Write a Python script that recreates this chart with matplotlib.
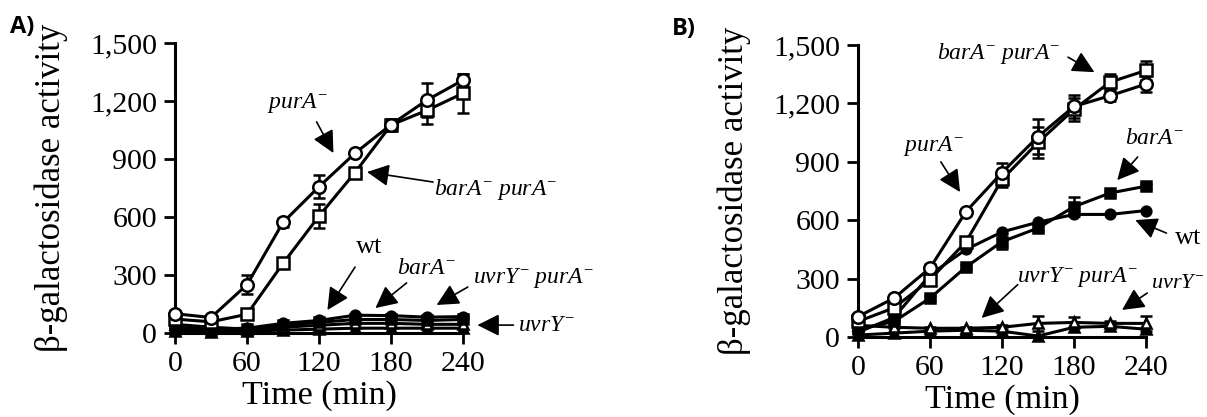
import matplotlib
matplotlib.use('Agg')
import matplotlib.pyplot as plt
import numpy as np

plt.rcParams['font.family'] = ['Liberation Serif', 'DejaVu Serif']
plt.rcParams['mathtext.fontset'] = 'custom'
plt.rcParams['mathtext.rm'] = 'Liberation Serif'
plt.rcParams['mathtext.it'] = 'Liberation Serif:italic'

# time points (min)
time_min = [0, 30, 60, 90, 120, 150, 180, 210, 240]

# ----- panel A -----
purA_A = [100, 80, 250, 572, 757, 930, 1078, 1205, 1308]
purA_A_err = [15, 10, 50, 25, 60, 15, 25, 90, 30]
barApurA_A = [72, 58, 97, 360, 605, 830, 1076, 1152, 1240]
barApurA_A_err = [10, 10, 15, 15, 60, 15, 30, 70, 100]
wt_A = [30, 20, 25, 50, 65, 92, 90, 82, 85]
barA_A = [20, 15, 20, 40, 55, 70, 70, 65, 70]
uvrYpurA_A = [45, 30, 20, 30, 40, 50, 50, 45, 45]
uvrY_A = [10, 5, 10, 15, 20, 25, 25, 25, 25]

# ----- panel B -----
purA_B = [105, 200, 355, 645, 845, 1030, 1185, 1240, 1300]
purA_B_err = [10, 10, 20, 15, 50, 90, 60, 25, 40]
barApurA_B = [80, 150, 295, 490, 810, 1000, 1170, 1310, 1370]
barApurA_B_err = [10, 15, 20, 20, 40, 80, 60, 40, 50]
barA_B = [40, 80, 200, 360, 490, 560, 670, 740, 775]
barA_B_err = [5, 5, 10, 10, 40, 15, 50, 10, 10]
wt_B = [25, 100, 320, 450, 540, 590, 630, 630, 650]
uvrYpurA_B = [60, 50, 45, 45, 50, 70, 75, 70, 70]
uvrYpurA_B_err = [5, 5, 5, 5, 10, 40, 30, 10, 40]
uvrY_B = [10, 20, 30, 35, 30, 5, 50, 55, 40]

y_ticks = [0, 300, 600, 900, 1200, 1500]
y_ticklabels = ['0', '300', '600', '900', '1,200', '1,500']
x_ticks = [0, 60, 120, 180, 240]

fig = plt.figure(figsize=(12.07, 4.17), dpi=100)
axA = fig.add_axes([0.145, 0.2014, 0.2386, 0.6954])
axB = fig.add_axes([0.7109, 0.1918, 0.2386, 0.700])


def draw_series(ax, y, marker, filled, err=None, ms=8.5):
    fc = 'black' if filled else 'white'
    ax.errorbar(time_min, y, yerr=err, color='black', lw=2.2, marker=marker,
                ms=ms, mfc=fc, mec='black', mew=1.8, capsize=4, capthick=1.8,
                elinewidth=1.8, clip_on=False, zorder=3)


def style_axis(ax):
    ax.set_xlim(0, 240)
    ax.set_ylim(0, 1500)
    for s in ['top', 'right']:
        ax.spines[s].set_visible(False)
    ax.spines['left'].set_linewidth(2.2)
    ax.spines['bottom'].set_linewidth(2.2)
    ax.spines['left'].set_bounds(0, 1500)
    ax.spines['bottom'].set_bounds(0, 240)
    ax.set_xticks(x_ticks)
    ax.set_yticks(y_ticks)
    ax.set_yticklabels(y_ticklabels)
    ax.tick_params(direction='out', length=8, width=2, labelsize=21.5, pad=5)
    ax.set_xlabel('Time (min)', fontsize=24.5)
    ax.set_ylabel('β-galactosidase activity', fontsize=25)
    ax.xaxis.label.set_va('center')
    ax.yaxis.set_label_coords(-0.37, 0.5)


def label(ax, txt, x, y, ha='center', size=17):
    ax.text(x, y, txt, ha=ha, va='center', fontsize=size, clip_on=False)


def arrow(ax, tail, tip):
    ax.annotate('', xy=tip, xytext=tail, annotation_clip=False,
                arrowprops=dict(arrowstyle='-|>,head_length=0.9,head_width=0.45',
                                mutation_scale=15, color='black', lw=1.2,
                                shrinkA=0, shrinkB=0))


PURA = r'$purA^{-}$'
BARA = r'$barA^{-}$'
BARA_PURA = r'$barA^{-}\ purA^{-}$'
UVRY = r'$uvrY^{-}$'
UVRY_PURA = r'$uvrY^{-}\ purA^{-}$'

# panel A
draw_series(axA, uvrY_A, '^', True, ms=7)
draw_series(axA, uvrYpurA_A, '^', False, ms=7)
draw_series(axA, barA_A, 's', True, ms=7)
draw_series(axA, wt_A, 'o', True, ms=7)
draw_series(axA, barApurA_A, 's', False, barApurA_A_err, ms=9)
draw_series(axA, purA_A, 'o', False, purA_A_err, ms=9)
style_axis(axA)
axA.xaxis.set_label_coords(0.503, -0.215)

label(axA, PURA, 102, 1190)
arrow(axA, (118, 1092), (132, 931))
label(axA, BARA_PURA, 216, 740, ha='left')
arrow(axA, (215, 781), (160, 833))
label(axA, 'wt', 162, 445, size=19)
arrow(axA, (150, 341), (127, 119))
label(axA, BARA, 210, 336)
arrow(axA, (193, 259), (167, 129))
label(axA, UVRY_PURA, 248, 285, ha='left')
arrow(axA, (244, 238), (218, 145))
label(axA, UVRY, 286, 41, ha='left')
arrow(axA, (282, 41), (252, 41))

# panel B
draw_series(axB, uvrY_B, '^', True, ms=7)
draw_series(axB, uvrYpurA_B, '^', False, uvrYpurA_B_err, ms=7)
draw_series(axB, wt_B, 'o', True, ms=7)
draw_series(axB, barA_B, 's', True, barA_B_err, ms=7)
draw_series(axB, barApurA_B, 's', False, barApurA_B_err, ms=9)
draw_series(axB, purA_B, 'o', False, purA_B_err, ms=9)
style_axis(axB)
axB.xaxis.set_label_coords(0.503, -0.215)

label(axB, BARA_PURA, 117, 1456)
arrow(axB, (175, 1438), (197, 1361))
label(axB, PURA, 63, 983)
arrow(axB, (69, 900), (85, 745))
label(axB, BARA, 247, 1022)
arrow(axB, (233, 925), (216, 806))
label(axB, 'wt', 275, 508, size=19)
arrow(axB, (257, 534), (231, 601))
label(axB, UVRY_PURA, 183, 309)
arrow(axB, (133, 269), (103, 98))
label(axB, UVRY, 288.5, 277, ha='right', size=16)
arrow(axB, (241, 226), (220, 139))

fig.text(22 / 1207, 1 - 27 / 417, 'A)', fontsize=17, fontweight='bold',
         family=['Open Sans', 'DejaVu Sans'], ha='center', va='center')
fig.text(684 / 1207, 1 - 29 / 417, 'B)', fontsize=17, fontweight='bold',
         family=['Open Sans', 'DejaVu Sans'], ha='center', va='center')

fig.savefig('out.png', dpi=100)
